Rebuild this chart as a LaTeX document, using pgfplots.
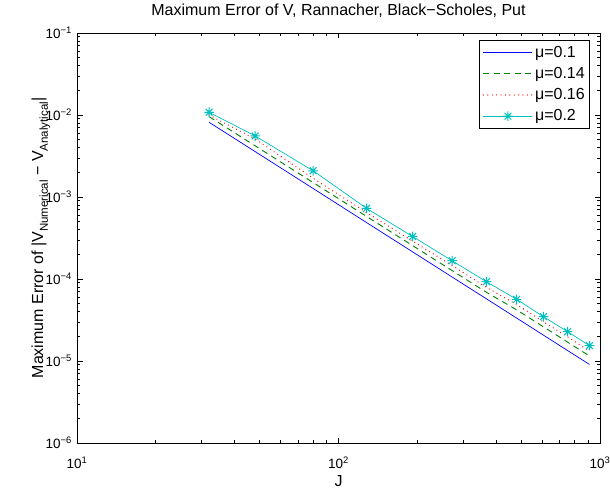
\documentclass[border=0pt]{standalone}
\usepackage{pgfplots}
\pgfplotsset{compat=1.18}
\usepackage{fontspec}
\setmainfont{Liberation Sans}

% MATLAB-style '*' marker: plus and cross combined
\pgfdeclareplotmark{mstar}{%
  \pgfpathmoveto{\pgfqpoint{-\pgfplotmarksize}{0pt}}\pgfpathlineto{\pgfqpoint{\pgfplotmarksize}{0pt}}%
  \pgfpathmoveto{\pgfqpoint{0pt}{-\pgfplotmarksize}}\pgfpathlineto{\pgfqpoint{0pt}{\pgfplotmarksize}}%
  \pgfpathmoveto{\pgfqpoint{-.707\pgfplotmarksize}{-.707\pgfplotmarksize}}\pgfpathlineto{\pgfqpoint{.707\pgfplotmarksize}{.707\pgfplotmarksize}}%
  \pgfpathmoveto{\pgfqpoint{-.707\pgfplotmarksize}{.707\pgfplotmarksize}}\pgfpathlineto{\pgfqpoint{.707\pgfplotmarksize}{-.707\pgfplotmarksize}}%
  \pgfusepathqstroke}

\definecolor{mgreen}{rgb}{0,0.5,0}
\definecolor{mcyan}{rgb}{0,0.75,0.75}

\newcommand{\labfont}{\fontsize{16}{19}\selectfont}
\newcommand{\tickfont}{\fontsize{13.5}{16}\selectfont}
\newcommand{\sub}[1]{\raisebox{-0.3em}{\fontsize{11.5}{13}\selectfont #1}}

\begin{document}
\begin{tikzpicture}
\begin{axis}[
    at={(0pt,0pt)}, anchor=south west,
    scale only axis,
    width=523pt, height=410pt,
    xmode=log, ymode=log,
    xmin=10, xmax=1000,
    ymin=1e-6, ymax=1e-1,
    xtick={10,100,1000},
    xticklabels={10\textsuperscript{1},10\textsuperscript{2},10\textsuperscript{3}},
    ytick={1e-6,1e-5,1e-4,1e-3,1e-2,1e-1},
    yticklabels={10\textsuperscript{−6},10\textsuperscript{−5},10\textsuperscript{−4},10\textsuperscript{−3},10\textsuperscript{−2},10\textsuperscript{−1}},
    minor xtick={20,30,40,50,60,70,80,90,200,300,400,500,600,700,800,900},
    minor ytick={2e-6,3e-6,4e-6,5e-6,6e-6,7e-6,8e-6,9e-6,
                 2e-5,3e-5,4e-5,5e-5,6e-5,7e-5,8e-5,9e-5,
                 2e-4,3e-4,4e-4,5e-4,6e-4,7e-4,8e-4,9e-4,
                 2e-3,3e-3,4e-3,5e-3,6e-3,7e-3,8e-3,9e-3,
                 2e-2,3e-2,4e-2,5e-2,6e-2,7e-2,8e-2,9e-2},
    tick align=inside,
    major tick length=5.5pt,
    minor tick length=3pt,
    tick style={black, line width=0.6pt},
    axis line style={black, line width=0.8pt},
    xticklabel style={font=\tickfont, anchor=base, yshift=-25.3pt, inner sep=0pt},
    yticklabel style={font=\tickfont, anchor=east, xshift=-5pt, inner sep=0pt},
    title={Maximum Error of V, Rannacher, Black−Scholes, Put},
    title style={font=\labfont, at={(axis description cs:0.5,1.0283)}, anchor=base},
    xlabel={J},
    xlabel style={font=\labfont, at={(axis description cs:0.5,-0.1049)}, anchor=base},
    ylabel={Maximum Error of |V\sub{Numerical} − V\sub{Analytical}|},
    ylabel style={font=\labfont, at={(axis description cs:-0.065,0.5)}, anchor=base},
    legend image code/.code={\draw[mark repeat=2,mark phase=2,#1] plot coordinates {(0pt,0pt) (24.5pt,0pt) (49pt,0pt)};},
    legend style={at={(rel axis cs:0.981,0.983)}, anchor=north east,
        draw=black, line width=0.6pt, font=\labfont,
        inner xsep=3pt, inner ysep=4pt, row sep=4.5pt,
        cells={anchor=west}},
]
\addplot[draw=blue, line width=0.7pt] coordinates {
    (32,8.15e-3) (48,3.58e-3) (80,1.27e-3) (128,4.88e-4) (192,2.145e-4)
    (272,1.057e-4) (368,5.73e-5) (480,3.34e-5) (608,2.065e-5) (752,1.341e-5) (912,9.07e-6)
};
\addlegendentry{μ=0.1}
\addplot[draw=mgreen, line width=0.9pt, dash pattern=on 6pt off 4.5pt] coordinates {
    (32,9.55e-3) (48,4.21e-3) (80,1.50e-3) (128,5.80e-4) (192,2.56e-4)
    (272,1.267e-4) (368,6.88e-5) (480,4.21e-5) (608,2.61e-5) (752,1.70e-5) (912,1.15e-5)
};
\addlegendentry{μ=0.14}
\addplot[draw=red, line width=1.3pt, line cap=round, dash pattern=on 0pt off 4.4pt] coordinates {
    (32,1.0e-2) (48,5.1e-3) (80,1.69e-3) (128,6.47e-4) (192,2.9e-4)
    (272,1.46e-4) (368,7.9e-5) (480,4.9e-5) (608,3.0e-5) (752,1.97e-5) (912,1.32e-5)
};
\addlegendentry{μ=0.16}
\addplot[draw=mcyan, line width=0.7pt, mark=mstar, mark size=4.8pt, mark options={draw=mcyan, line width=1pt, solid}] coordinates {
    (32,1.08e-2) (48,5.55e-3) (80,2.09e-3) (128,7.28e-4) (192,3.3e-4)
    (272,1.67e-4) (368,9.27e-5) (480,5.65e-5) (608,3.47e-5) (752,2.28e-5) (912,1.54e-5)
};
\addlegendentry{μ=0.2}
\end{axis}
\pgfresetboundingbox
\path[use as bounding box] (-77pt,-48pt) rectangle (533pt,443pt);
\end{tikzpicture}
\end{document}
